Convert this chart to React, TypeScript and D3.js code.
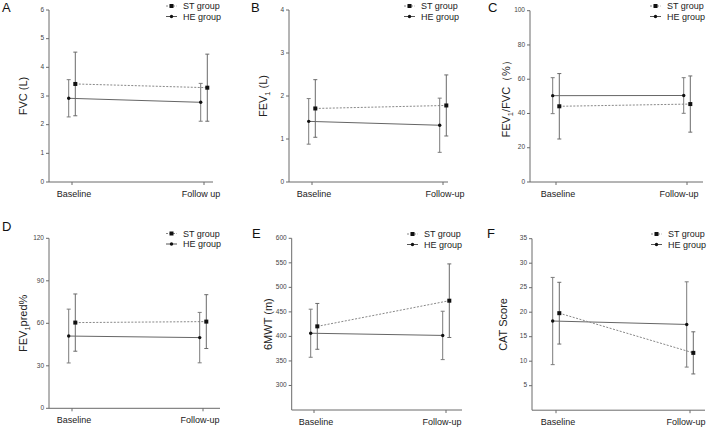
import React from "react";
import * as d3 from "d3";

// ---------- data ----------
const groupNames = ["ST group", "HE group"];
const timepointsA = ["Baseline", "Follow up"];
const timepoints = ["Baseline", "Follow-up"];

// A: FVC (L)
const fvcST = [3.42, 3.29];
const fvcSTsd = [1.11, 1.17];
const fvcHE = [2.92, 2.78];
const fvcHEsd = [0.65, 0.66];
const fvcTicks = [0, 1, 2, 3, 4, 5, 6];

// B: FEV1 (L)
const fev1ST = [1.71, 1.78];
const fev1STsd = [0.67, 0.71];
const fev1HE = [1.41, 1.32];
const fev1HEsd = [0.53, 0.63];
const fev1Ticks = [0, 1, 2, 3, 4];

// C: FEV1/FVC (%)
const ratioST = [44.2, 45.5];
const ratioSTsd = [19.1, 16.4];
const ratioHE = [50.4, 50.5];
const ratioHEsd = [10.5, 10.4];
const ratioTicks = [0, 20, 40, 60, 80, 100];

// D: FEV1pred%
const predST = [60.5, 61.2];
const predSTsd = [20.2, 19.0];
const predHE = [51.0, 49.9];
const predHEsd = [19.0, 17.8];
const predTicks = [0, 30, 60, 90, 120];

// E: 6MWT (m)
const mwtST = [420.5, 472.8];
const mwtSTsd = [46.7, 75.0];
const mwtHE = [406.5, 402.0];
const mwtHEsd = [49.0, 49.3];
const mwtTicks = [300, 350, 400, 450, 500, 550, 600];

// F: CAT score
const catST = [19.8, 11.7];
const catSTsd = [6.3, 4.3];
const catHE = [18.2, 17.5];
const catHEsd = [8.9, 8.7];
const catTicks = [5, 10, 15, 20, 25, 30, 35];

// ---------- layout ----------
type Panel = {
  letter: string;
  letterX: number;
  letterY: number;
  left: number;
  right: number;
  top: number;
  bottom: number;
  xBase: number;
  xFollow: number;
  labelDx: [number, number];
  domain: [number, number];
  ticks: number[];
  cats: string[];
  title: React.ReactNode;
  titleX: number;
  legendX: number;
  legendY: number;
  st: number[];
  stSd: number[];
  he: number[];
  heSd: number[];
};

const sub = (main: string, rest: string) => (
  <>
    {main}
    <tspan fontSize={7.5} dy={2.5}>1</tspan>
    <tspan dy={-2.5}>{rest}</tspan>
  </>
);

const panels: Panel[] = [
  {
    letter: "A", letterX: 2, letterY: 12,
    left: 49, right: 213, top: 10, bottom: 182, xBase: 72, xFollow: 204, labelDx: [2, -3],
    domain: [0, 6], ticks: fvcTicks, cats: timepointsA,
    title: "FVC (L)", titleX: 27,
    legendX: 166, legendY: 6,
    st: fvcST, stSd: fvcSTsd, he: fvcHE, heSd: fvcHEsd,
  },
  {
    letter: "B", letterX: 251, letterY: 12,
    left: 289, right: 448, top: 10, bottom: 182, xBase: 312, xFollow: 443, labelDx: [2, 2],
    domain: [0, 4], ticks: fev1Ticks, cats: timepoints,
    title: sub("FEV", " (L)"), titleX: 267,
    legendX: 404, legendY: 6,
    st: fev1ST, stSd: fev1STsd, he: fev1HE, heSd: fev1HEsd,
  },
  {
    letter: "C", letterX: 488, letterY: 12,
    left: 530, right: 703, top: 10.7, bottom: 182, xBase: 556, xFollow: 687, labelDx: [2, -8],
    domain: [0, 100], ticks: ratioTicks, cats: timepoints,
    title: sub("FEV", "/FVC\uFF08%\uFF09"), titleX: 510,
    legendX: 650, legendY: 6,
    st: ratioST, stSd: ratioSTsd, he: ratioHE, heSd: ratioHEsd,
  },
  {
    letter: "D", letterX: 2, letterY: 231,
    left: 49, right: 220, top: 238.3, bottom: 408.3, xBase: 72, xFollow: 203, labelDx: [2, -3],
    domain: [0, 120], ticks: predTicks, cats: timepoints,
    title: sub("FEV", "pred%"), titleX: 27,
    legendX: 166, legendY: 233.5,
    st: predST, stSd: predSTsd, he: predHE, heSd: predHEsd,
  },
  {
    letter: "E", letterX: 252, letterY: 238,
    left: 291.7, right: 462, top: 238.3, bottom: 410, xBase: 314, xFollow: 446, labelDx: [2, -4],
    domain: [250, 600], ticks: mwtTicks, cats: timepoints,
    title: "6MWT (m)", titleX: 272,
    legendX: 407, legendY: 234,
    st: mwtST, stSd: mwtSTsd, he: mwtHE, heSd: mwtHEsd,
  },
  {
    letter: "F", letterX: 487, letterY: 238,
    left: 532, right: 705, top: 238.7, bottom: 410.2, xBase: 556, xFollow: 690, labelDx: [2, -4],
    domain: [0, 35], ticks: catTicks, cats: timepoints,
    title: "CAT Score", titleX: 507,
    legendX: 651, legendY: 234,
    st: catST, stSd: catSTsd, he: catHE, heSd: catHEsd,
  },
];

const FONT = "'Liberation Sans', Arial, Helvetica, sans-serif";
const AXIS = "#6a6a6a";
const OFF = 3.3;

function PanelView({ p }: { p: Panel }) {
  const y = d3.scaleLinear().domain(p.domain).range([p.bottom, p.top]);
  const x = d3.scalePoint<string>().domain(p.cats).range([p.xBase, p.xFollow]);
  const line = d3
    .line<[number, number]>()
    .x((d) => d[0])
    .y((d) => d[1]);

  const series = [
    { name: groupNames[1], mean: p.he, sd: p.heSd, dx: -OFF, square: false },
    { name: groupNames[0], mean: p.st, sd: p.stSd, dx: OFF, square: true },
  ];
  const midY = (p.top + p.bottom) / 2;

  return (
    <g fontFamily={FONT}>
      <text x={p.letterX} y={p.letterY} fontSize={13} fill="#111">
        {p.letter}
      </text>
      {/* y axis */}
      <line x1={p.left} x2={p.left} y1={p.top} y2={p.bottom} stroke={AXIS} strokeWidth={1} />
      {p.ticks.map((t) => (
        <g key={t}>
          <line x1={p.left - 3} x2={p.left} y1={y(t)} y2={y(t)} stroke={AXIS} strokeWidth={1} />
          <text
            x={p.left - 5}
            y={y(t)}
            fontSize={6.5}
            fill="#444"
            textAnchor="end"
            dominantBaseline="middle"
          >
            {t}
          </text>
        </g>
      ))}
      {/* x axis */}
      <line x1={p.left} x2={p.right} y1={p.bottom} y2={p.bottom} stroke={AXIS} strokeWidth={1} />
      {p.cats.map((c, i) => (
        <g key={c}>
          <line x1={x(c)!} x2={x(c)!} y1={p.bottom} y2={p.bottom + 3} stroke={AXIS} strokeWidth={1} />
          <text x={x(c)! + p.labelDx[i]} y={p.bottom + 15} fontSize={9} fill="#222" textAnchor="middle">
            {c}
          </text>
        </g>
      ))}
      {/* title */}
      <text
        transform={`translate(${p.titleX},${midY}) rotate(-90)`}
        fontSize={11}
        fill="#222"
        textAnchor="middle"
      >
        {p.title}
      </text>
      {/* lines */}
      {series.map((s) => (
        <path
          key={s.name + "l"}
          d={line(p.cats.map((c, i) => [x(c)! + s.dx, y(s.mean[i])]))!}
          fill="none"
          stroke={s.square ? "#888" : "#666"}
          strokeWidth={1}
          strokeDasharray={s.square ? "2,1.5" : undefined}
        />
      ))}
      {/* error bars */}
      {series.map((s) =>
        p.cats.map((c, i) => {
          const cx = x(c)! + s.dx;
          const hi = y(s.mean[i] + s.sd[i]);
          const lo = y(s.mean[i] - s.sd[i]);
          const col = s.square ? "#6a6a6a" : "#7c7c7c";
          return (
            <g key={s.name + c}>
              <line x1={cx} x2={cx} y1={hi} y2={lo} stroke={col} strokeWidth={1} />
              <line x1={cx - 2} x2={cx + 2} y1={hi} y2={hi} stroke={col} strokeWidth={1} />
              <line x1={cx - 2} x2={cx + 2} y1={lo} y2={lo} stroke={col} strokeWidth={1} />
            </g>
          );
        })
      )}
      {/* markers */}
      {series.map((s) =>
        p.cats.map((c, i) => {
          const cx = x(c)! + s.dx;
          const cy = y(s.mean[i]);
          return s.square ? (
            <rect key={s.name + c + "m"} x={cx - 2} y={cy - 2} width={4} height={4} fill="#111" />
          ) : (
            <circle key={s.name + c + "m"} cx={cx} cy={cy} r={1.7} fill="#111" />
          );
        })
      )}
      {/* legend */}
      {[series[1], series[0]].map((s, i) => {
        const ly = p.legendY + i * 10.5;
        return (
          <g key={s.name + "leg"}>
            <line
              x1={p.legendX}
              x2={p.legendX + 11}
              y1={ly}
              y2={ly}
              stroke={s.square ? "#888" : "#555"}
              strokeWidth={1}
              strokeDasharray={s.square ? "2,1.5" : undefined}
            />
            {s.square ? (
              <rect x={p.legendX + 3.5} y={ly - 2} width={4} height={4} fill="#111" />
            ) : (
              <circle cx={p.legendX + 5.5} cy={ly} r={1.7} fill="#111" />
            )}
            <text x={p.legendX + 17} y={ly + 3} fontSize={9} fill="#222">
              {s.name}
            </text>
          </g>
        );
      })}
    </g>
  );
}

export default function App() {
  return (
    <svg
      width={708}
      height={427}
      viewBox="0 0 708 427"
      style={{ position: "absolute", left: 0, top: 0, background: "#fff" }}
    >
      <rect width={708} height={427} fill="#fff" />
      {panels.map((p) => (
        <PanelView key={p.letter} p={p} />
      ))}
    </svg>
  );
}
